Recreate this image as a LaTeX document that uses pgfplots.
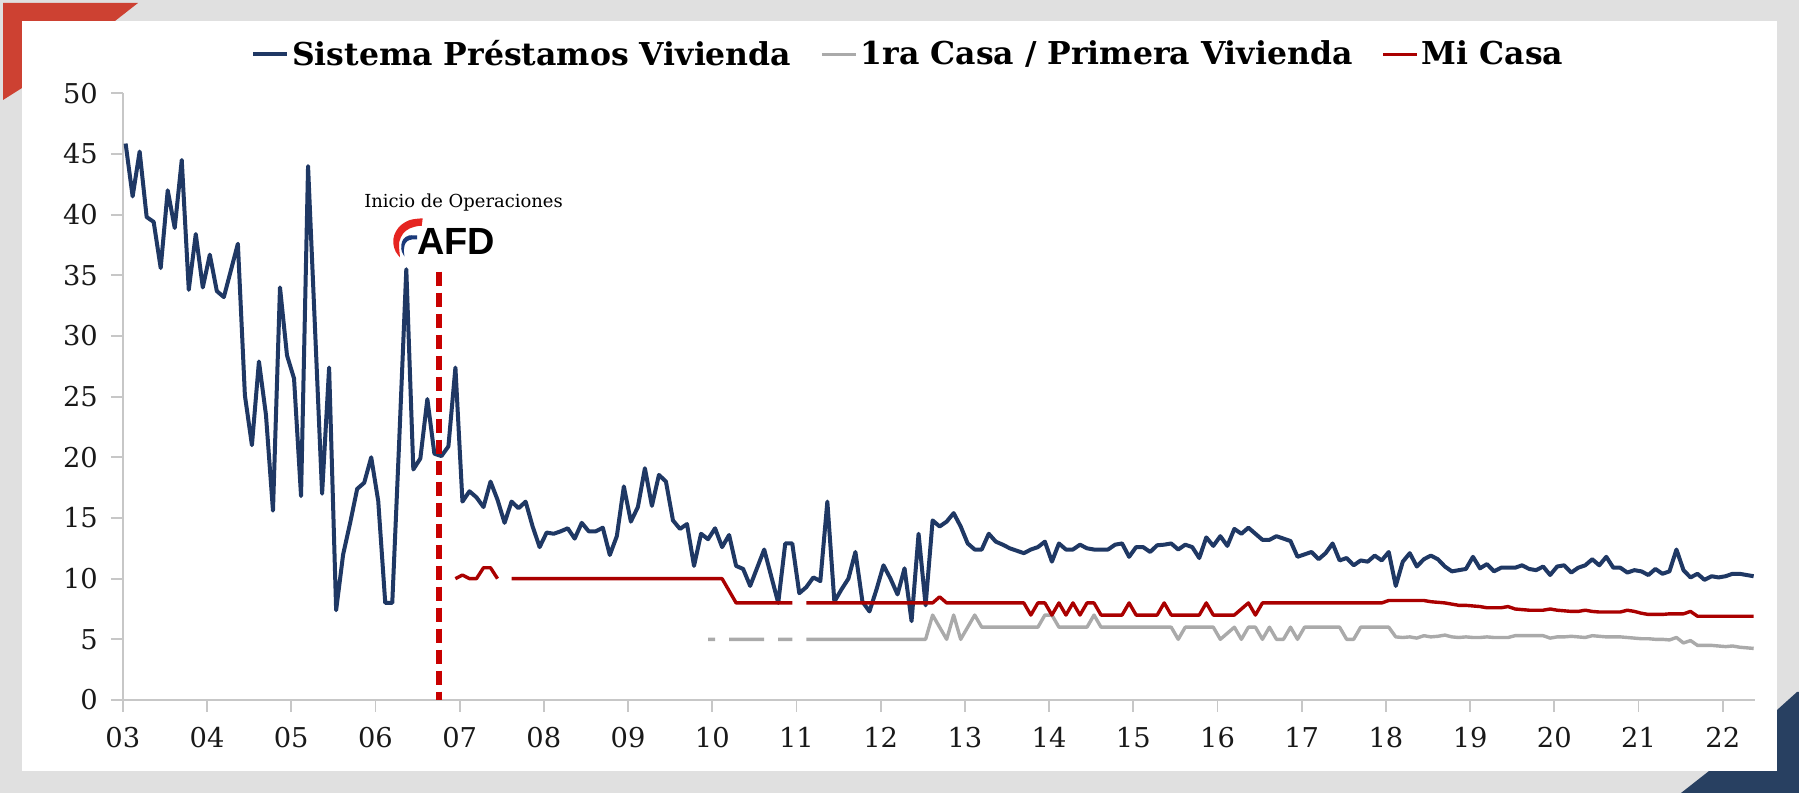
\documentclass[border=0pt]{standalone}
\usepackage{fontspec}
\setmainfont{DejaVu Serif}
\newfontfamily\afdfont{Liberation Sans}
\usepackage{pgfplots}
\usepackage{pgfplotstable}
\pgfplotsset{compat=1.18}

\definecolor{bgray}{RGB}{224,224,224}
\definecolor{cornerred}{RGB}{205,65,50}
\definecolor{cornernavy}{RGB}{40,64,97}
\definecolor{sisblue}{RGB}{31,56,100}
\definecolor{prigray}{RGB}{170,170,170}
\definecolor{mired}{RGB}{170,0,0}
\definecolor{dashred}{RGB}{200,0,0}
\definecolor{logored}{RGB}{229,37,33}
\definecolor{logonavy}{RGB}{27,58,122}

% m = month index (0 = Jan 2003); S = Sistema, P = 1ra Casa, M = Mi Casa
\pgfplotstableread{
m S P M
0 45.86 nan nan
1 41.5 nan nan
2 45.2 nan nan
3 39.8 nan nan
4 39.4 nan nan
5 35.6 nan nan
6 42.0 nan nan
7 38.9 nan nan
8 44.5 nan nan
9 33.8 nan nan
10 38.4 nan nan
11 34.0 nan nan
12 36.7 nan nan
13 33.7 nan nan
14 33.2 nan nan
15 35.4 nan nan
16 37.6 nan nan
17 25.1 nan nan
18 21.0 nan nan
19 27.9 nan nan
20 23.5 nan nan
21 15.6 nan nan
22 34.0 nan nan
23 28.4 nan nan
24 26.5 nan nan
25 16.8 nan nan
26 44.0 nan nan
27 30.5 nan nan
28 17.0 nan nan
29 27.4 nan nan
30 7.4 nan nan
31 12.0 nan nan
32 14.6 nan nan
33 17.4 nan nan
34 17.9 nan nan
35 20.0 nan nan
36 16.4 nan nan
37 8.0 nan nan
38 8.0 nan nan
39 21.5 nan nan
40 35.5 nan nan
41 19.0 nan nan
42 19.9 nan nan
43 24.8 nan nan
44 20.3 nan nan
45 20.1 nan nan
46 20.9 nan nan
47 27.4 nan 10.0
48 16.35 nan 10.3
49 17.2 nan 10.0
50 16.7 nan 10.0
51 15.9 nan 10.9
52 18.0 nan 10.9
53 16.5 nan 10.0
54 14.6 nan nan
55 16.35 nan 10.0
56 15.8 nan 10.0
57 16.35 nan 10.0
58 14.3 nan 10.0
59 12.6 nan 10.0
60 13.8 nan 10.0
61 13.7 nan 10.0
62 13.9 nan 10.0
63 14.15 nan 10.0
64 13.3 nan 10.0
65 14.6 nan 10.0
66 13.9 nan 10.0
67 13.9 nan 10.0
68 14.2 nan 10.0
69 11.95 nan 10.0
70 13.5 nan 10.0
71 17.6 nan 10.0
72 14.7 nan 10.0
73 15.9 nan 10.0
74 19.1 nan 10.0
75 16.0 nan 10.0
76 18.55 nan 10.0
77 18.0 nan 10.0
78 14.8 nan 10.0
79 14.1 nan 10.0
80 14.5 nan 10.0
81 11.05 nan 10.0
82 13.7 nan 10.0
83 13.25 5.0 10.0
84 14.15 5.0 10.0
85 12.6 nan 10.0
86 13.6 5.0 9.0
87 11.05 5.0 8.0
88 10.8 5.0 8.0
89 9.4 5.0 8.0
90 10.9 5.0 8.0
91 12.4 5.0 8.0
92 10.2 nan 8.0
93 8.0 5.0 8.0
94 12.9 5.0 8.0
95 12.9 5.0 8.0
96 8.8 nan nan
97 9.3 5.0 8.0
98 10.1 5.0 8.0
99 9.8 5.0 8.0
100 16.35 5.0 8.0
101 8.1 5.0 8.0
102 9.1 5.0 8.0
103 10.0 5.0 8.0
104 12.2 5.0 8.0
105 8.1 5.0 8.0
106 7.3 5.0 8.0
107 9.1 5.0 8.0
108 11.1 5.0 8.0
109 10.0 5.0 8.0
110 8.7 5.0 8.0
111 10.85 5.0 8.0
112 6.5 5.0 8.0
113 13.7 5.0 8.0
114 7.8 5.0 8.0
115 14.8 7.0 8.0
116 14.3 6.0 8.5
117 14.7 5.0 8.0
118 15.4 7.0 8.0
119 14.3 5.0 8.0
120 12.9 6.0 8.0
121 12.4 7.0 8.0
122 12.4 6.0 8.0
123 13.7 6.0 8.0
124 13.05 6.0 8.0
125 12.8 6.0 8.0
126 12.5 6.0 8.0
127 12.3 6.0 8.0
128 12.1 6.0 8.0
129 12.4 6.0 7.0
130 12.6 6.0 8.0
131 13.05 7.0 8.0
132 11.4 7.0 7.0
133 12.9 6.0 8.0
134 12.4 6.0 7.0
135 12.4 6.0 8.0
136 12.8 6.0 7.0
137 12.5 6.0 8.0
138 12.4 7.0 8.0
139 12.4 6.0 7.0
140 12.4 6.0 7.0
141 12.8 6.0 7.0
142 12.9 6.0 7.0
143 11.8 6.0 8.0
144 12.6 6.0 7.0
145 12.6 6.0 7.0
146 12.2 6.0 7.0
147 12.75 6.0 7.0
148 12.8 6.0 8.0
149 12.9 6.0 7.0
150 12.4 5.0 7.0
151 12.8 6.0 7.0
152 12.6 6.0 7.0
153 11.7 6.0 7.0
154 13.4 6.0 8.0
155 12.7 6.0 7.0
156 13.5 5.0 7.0
157 12.7 5.5 7.0
158 14.1 6.0 7.0
159 13.7 5.0 7.5
160 14.2 6.0 8.0
161 13.7 6.0 7.0
162 13.2 5.0 8.0
163 13.2 6.0 8.0
164 13.5 5.0 8.0
165 13.3 5.0 8.0
166 13.1 6.0 8.0
167 11.8 5.0 8.0
168 12.0 6.0 8.0
169 12.2 6.0 8.0
170 11.6 6.0 8.0
171 12.1 6.0 8.0
172 12.9 6.0 8.0
173 11.5 6.0 8.0
174 11.7 5.0 8.0
175 11.1 5.0 8.0
176 11.5 6.0 8.0
177 11.4 6.0 8.0
178 11.9 6.0 8.0
179 11.5 6.0 8.0
180 12.2 6.0 8.2
181 9.4 5.2 8.2
182 11.4 5.15 8.2
183 12.1 5.2 8.2
184 11.0 5.1 8.2
185 11.6 5.3 8.2
186 11.9 5.2 8.1
187 11.6 5.25 8.05
188 11.0 5.35 8.0
189 10.6 5.2 7.9
190 10.7 5.15 7.8
191 10.8 5.2 7.8
192 11.8 5.15 7.75
193 10.85 5.15 7.7
194 11.2 5.2 7.6
195 10.6 5.15 7.6
196 10.9 5.15 7.6
197 10.9 5.15 7.7
198 10.9 5.3 7.5
199 11.1 5.3 7.45
200 10.8 5.3 7.4
201 10.7 5.3 7.4
202 11.0 5.3 7.4
203 10.3 5.1 7.5
204 11.0 5.2 7.4
205 11.1 5.2 7.35
206 10.5 5.25 7.3
207 10.9 5.2 7.3
208 11.1 5.15 7.4
209 11.6 5.3 7.3
210 11.1 5.25 7.25
211 11.8 5.2 7.25
212 10.9 5.2 7.25
213 10.9 5.2 7.25
214 10.5 5.15 7.4
215 10.7 5.1 7.3
216 10.6 5.05 7.15
217 10.3 5.05 7.05
218 10.8 5.0 7.05
219 10.4 5.0 7.05
220 10.6 4.95 7.1
221 12.4 5.15 7.1
222 10.7 4.7 7.1
223 10.1 4.9 7.3
224 10.4 4.5 6.9
225 9.9 4.5 6.9
226 10.2 4.5 6.9
227 10.1 4.45 6.9
228 10.2 4.4 6.9
229 10.4 4.45 6.9
230 10.4 4.35 6.9
231 10.3 4.3 6.9
232 10.2 4.25 6.9
}\tasas

\begin{document}
\begin{tikzpicture}[x=0.5bp,y=0.5bp]
% frame
\fill[bgray] (0,0) rectangle (1799,793);
\fill[cornerred] (3,790) -- (138,790) -- (115,772) -- (22,772) -- (22,705) -- (3,693) -- cycle;
\fill[cornernavy] (1777,83) -- (1797,101) -- (1799,101) -- (1799,0) -- (1681,0) -- (1709,22) -- (1777,22) -- cycle;
\fill[white] (22,22) rectangle (1777,772);

\begin{axis}[
  at={(61.4bp,46.5bp)}, anchor=south west,
  width=816.1bp, height=303.35bp, scale only axis,
  xmin=-0.4, xmax=232.2, ymin=0, ymax=50,
  axis x line*=bottom, axis y line*=left,
  axis line style={draw=black!22, line width=0.9bp, -},
  ytick={0,5,...,50},
  xtick={-0.4,11.6,...,227.6},
  xticklabels={03,04,05,06,07,08,09,10,11,12,13,14,15,16,17,18,19,20,21,22},
  tick align=outside, major tick length=6bp,
  tick style={draw=black!22, line width=0.9bp},
  /pgf/number format/assume math mode=true,
  every tick label/.append style={font=\fontsize{13.7}{16}\selectfont, text=black!90},
  yticklabel style={xshift=-3bp},
  xticklabel style={yshift=-4bp},
  unbounded coords=jump,
  clip=false,
  legend style={at={(rel axis cs:0.4815,1.064)}, anchor=center, legend columns=-1,
    draw=none, fill=none, inner sep=0pt,
    font=\fontsize{15.8}{18}\selectfont\bfseries,
    nodes={inner sep=1.5bp},
    /tikz/every even column/.append style={column sep=13bp}},
  legend image code/.code={\draw[#1] (0bp,0bp) -- (17bp,0bp);},
]
\addplot[sisblue, line width=2bp, line join=round] table[x=m, y=S] {\tasas};
\addlegendentry{Sistema Préstamos Vivienda}
\addplot[prigray, line width=1.7bp, line join=round] table[x=m, y=P] {\tasas};
\addlegendentry{1ra Casa / Primera Vivienda}
\addplot[mired, line width=1.7bp, line join=round] table[x=m, y=M] {\tasas};
\addlegendentry{Mi Casa}
% start of AFD operations
\draw[dashred, line width=3bp, dash pattern=on 7.25bp off 3.25bp]
  (axis cs:44.6,35.3) -- (axis cs:44.6,0);
\end{axis}

% annotation and logo
\node[anchor=base, inner sep=0pt, font=\fontsize{9}{11}\selectfont] at (463.5,585) {Inicio de Operaciones};
\fill[logored] plot[smooth, tension=0.6] coordinates {(422.7,574.7) (410,573) (400,567) (394.3,558) (393.3,549.7) (395.7,541.3) (400,535.7)}
  -- plot[smooth, tension=0.6] coordinates {(399.3,543) (399.3,551.3) (403.3,559.7) (410,564.7) (418.3,567) (421.7,567)} -- cycle;
\fill[logonavy] plot[smooth, tension=0.6] coordinates {(417,557.5) (409,557.5) (403.5,554) (401.3,548) (401.8,541.5) (404.5,536.5)}
  -- plot[smooth, tension=0.6] coordinates {(403.8,542) (404.7,548) (407.5,552) (412,553.5) (417,553.5)} -- cycle;
\node[anchor=base west, inner sep=0pt, font=\afdfont\bfseries\fontsize{19}{20}\selectfont] at (417,538) {AFD};
\end{tikzpicture}
\end{document}
